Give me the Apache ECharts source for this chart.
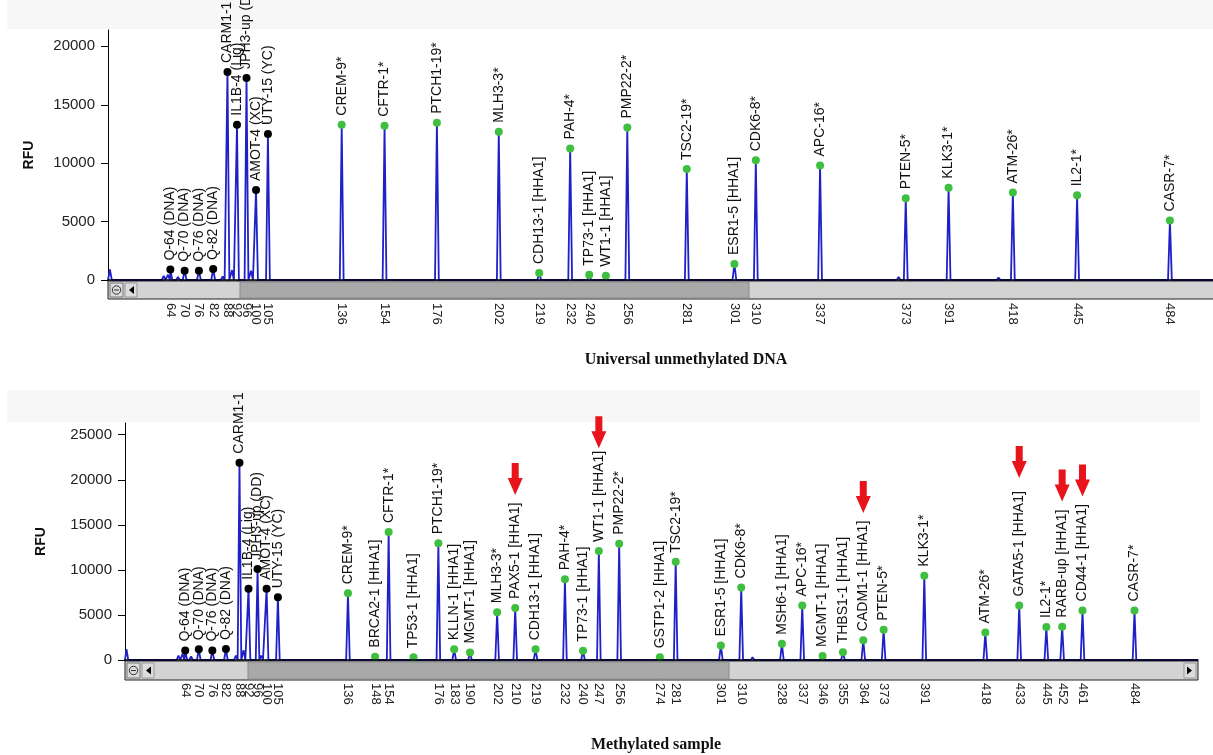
<!DOCTYPE html>
<html><head><meta charset="utf-8">
<script src="https://cdn.jsdelivr.net/npm/echarts@6/dist/echarts.min.js"></script>
<style>html,body{margin:0;padding:0;background:#fff}#c{width:1213px;height:755px}</style>
</head><body><div id="c"></div>
<script>
// ---------- Top panel: Universal unmethylated DNA ----------
const topCtrlNames = ['Q-64 (DNA)','Q-70 (DNA)','Q-76 (DNA)','Q-82 (DNA)','CARM1-1','IL1B-4 (Lig)','JPH3-up (DD)','AMOT-4 (XC)','UTY-15 (YC)'];
const topCtrlSizes = [64,70,76,82,88,92,96,100,105];
const topCtrlRFU   = [900,800,800,950,17800,13300,17300,7700,12500];
const topProbeNames = ['CREM-9*','CFTR-1*','PTCH1-19*','MLH3-3*','CDH13-1 [HHA1]','PAH-4*','TP73-1 [HHA1]','WT1-1 [HHA1]','PMP22-2*','TSC2-19*','ESR1-5 [HHA1]','CDK6-8*','APC-16*','PTEN-5*','KLK3-1*','ATM-26*','IL2-1*','CASR-7*'];
const topProbeSizes = [136,154,176,202,219,232,240,247,256,281,301,310,337,373,391,418,445,484];
const topProbeRFU   = [13300,13200,13450,12700,600,11250,450,370,13050,9500,1370,10250,9800,7000,7900,7500,7250,5100];
const topNoiseSizes = [38.6,61.2,63.0,67.2,86.0,89.9,97.9,120,146,190,226,270,318,362,370,412,450];
const topNoiseRFU   = [900,350,450,250,300,850,800,150,100,80,100,100,120,100,250,200,150];
const topTickLabels = [64,70,76,82,88,92,96,100,105,136,154,176,202,219,232,240,256,281,301,310,337,373,391,418,445,484];
const topTickMarks  = [64,70,76,82,88,92,96,100,105,136,154,176,202,219,232,240,247,256,281,301,310,337,373,391,418,445,484];
const topYTicks = [0,5000,10000,15000,20000];

// ---------- Bottom panel: Methylated sample ----------
const botCtrlNames = topCtrlNames;
const botCtrlSizes = [64,70,76,82,88,92,96,100,105];
const botCtrlRFU   = [1050,1200,1050,1220,21900,7900,10100,7900,6950];
const botProbeNames = ['CREM-9*','BRCA2-1 [HHA1]','CFTR-1*','TP53-1 [HHA1]','PTCH1-19*','KLLN-1 [HHA1]','MGMT-1 [HHA1]','MLH3-3*','PAX5-1 [HHA1]','CDH13-1 [HHA1]','PAH-4*','TP73-1 [HHA1]','WT1-1 [HHA1]','PMP22-2*','GSTP1-2 [HHA1]','TSC2-19*','ESR1-5 [HHA1]','CDK6-8*','MSH6-1 [HHA1]','APC-16*','MGMT-1 [HHA1]','THBS1-1 [HHA1]','CADM1-1 [HHA1]','PTEN-5*','KLK3-1*','ATM-26*','GATA5-1 [HHA1]','IL2-1*','RARB-up [HHA1]','CD44-1 [HHA1]','CASR-7*'];
const botProbeSizes = [136,148,154,165,176,183,190,202,210,219,232,240,247,256,274,281,301,310,328,337,346,355,364,373,391,418,433,445,452,461,484];
const botProbeRFU   = [7400,370,14200,300,12950,1180,820,5300,5780,1180,8950,1040,12100,12900,300,10900,1600,8050,1800,6050,450,850,2200,3350,9350,3050,6050,3650,3700,5500,5500];
const botNoiseSizes = [38.0,52,61.0,62.8,66.6,86.4,89.8,97.6,130,160,196,226,292,315,381,472];
const botNoiseRFU   = [1200,150,500,700,400,500,1100,500,150,100,100,120,100,300,200,150];
const botArrowSizes = [210,247,364,433,452,461];
const botArrowRFU   = [18300,23500,16300,20200,17600,18150];
const botTickLabels = [64,70,76,82,88,92,96,100,105,136,148,154,176,183,190,202,210,219,232,240,247,256,274,281,301,310,328,337,346,355,364,373,391,418,433,445,452,461,484];
const botTickMarks  = [64,70,76,82,88,92,96,100,105,136,148,154,165,176,183,190,202,210,219,232,240,247,256,274,281,301,310,328,337,346,355,364,373,391,418,433,445,452,461,484];
const botYTicks = [0,5000,10000,15000,20000,25000];

// ---------- helpers ----------
const FONT = 'Liberation Sans, Arial, sans-serif';
const W = 0.8; // half width of a peak (style)
function trace(groups, min, max) {
  const pk = [];
  groups.forEach(g => g[0].forEach((s, i) => pk.push([s, g[1][i]])));
  pk.sort((a, b) => a[0] - b[0]);
  const pts = [[min, 0]];
  pk.forEach(([s, h]) => { pts.push([s - W, 0], [s, h], [s + W, 0]); });
  pts.push([max, 0]);
  return pts;
}
function pts(sizes, vals, names) {
  return sizes.map((s, i) => ({ value: [s, vals[i]], name: names ? names[i] : '' }));
}
const peakLabel = {
  show: true, formatter: '{b}', position: 'top', rotate: 90, align: 'left',
  verticalAlign: 'middle', distance: 5, fontSize: 14, color: '#111', fontFamily: FONT
};

const P = [
  { min: 37.8, max: 502.1, ymax: 21400, yt: topYTicks, tl: topTickLabels, tm: topTickMarks, gap: 72 },
  { min: 37.35, max: 512.1, ymax: 26300, yt: botYTicks, tl: botTickLabels, tm: botTickMarks, gap: 77 }
];

const xAxis = [], yAxis = [];
P.forEach((p, g) => {
  xAxis.push({
    type: 'value', gridIndex: g, min: p.min, max: p.max, position: 'bottom', z: 10,
    axisLine: { show: true, onZero: false, lineStyle: { color: '#000', width: 1.5 } },
    axisTick: { show: false }, axisLabel: { show: false }, splitLine: { show: false }
  });
  xAxis.push({
    type: 'value', gridIndex: g, min: p.min, max: p.max, position: 'bottom', offset: 19,
    axisLine: { show: false },
    axisTick: { show: true, customValues: p.tm, length: 7, lineStyle: { color: '#000', width: 1 } },
    axisLabel: { show: true, customValues: p.tl, rotate: -90, fontSize: 13, color: '#222', margin: 4,
      fontFamily: FONT, formatter: v => String(v) },
    splitLine: { show: false }
  });
  yAxis.push({
    type: 'value', gridIndex: g, min: 0, max: p.ymax,
    axisLine: { show: true, lineStyle: { color: '#000', width: 1 } },
    axisTick: { show: true, customValues: p.yt, length: 7, lineStyle: { color: '#000' } },
    axisLabel: { customValues: p.yt, fontSize: 15, color: '#222', margin: 13, fontFamily: FONT, formatter: v => String(v) },
    splitLine: { show: false },
    name: 'RFU', nameLocation: 'middle', nameGap: p.gap,
    nameTextStyle: { fontWeight: 'bold', fontSize: 14, color: '#111', fontFamily: FONT }
  });
});

const blue = '#2020c8', green = '#3fbf3f';
const series = [
  { type: 'line', xAxisIndex: 0, yAxisIndex: 0, symbol: 'none', z: 2,
    data: trace([[topCtrlSizes, topCtrlRFU], [topProbeSizes, topProbeRFU], [topNoiseSizes, topNoiseRFU]], P[0].min, P[0].max),
    lineStyle: { color: blue, width: 1.8 } },
  { type: 'scatter', xAxisIndex: 0, yAxisIndex: 0, symbolSize: 8, z: 4,
    data: pts(topCtrlSizes, topCtrlRFU, topCtrlNames), itemStyle: { color: '#000', opacity: 1 }, label: peakLabel },
  { type: 'scatter', xAxisIndex: 0, yAxisIndex: 0, symbolSize: 8, z: 4,
    data: pts(topProbeSizes, topProbeRFU, topProbeNames), itemStyle: { color: green, opacity: 1 }, label: peakLabel },
  { type: 'line', xAxisIndex: 2, yAxisIndex: 1, symbol: 'none', z: 2,
    data: trace([[botCtrlSizes, botCtrlRFU], [botProbeSizes, botProbeRFU], [botNoiseSizes, botNoiseRFU]], P[1].min, P[1].max),
    lineStyle: { color: blue, width: 1.8 } },
  { type: 'scatter', xAxisIndex: 2, yAxisIndex: 1, symbolSize: 8, z: 4,
    data: pts(botCtrlSizes, botCtrlRFU, botCtrlNames), itemStyle: { color: '#000', opacity: 1 }, label: peakLabel },
  { type: 'scatter', xAxisIndex: 2, yAxisIndex: 1, symbolSize: 8, z: 4,
    data: pts(botProbeSizes, botProbeRFU, botProbeNames), itemStyle: { color: green, opacity: 1 }, label: peakLabel },
  { type: 'scatter', xAxisIndex: 2, yAxisIndex: 1, z: 5,
    data: pts(botArrowSizes, botArrowRFU),
    symbol: 'path://M4,0 L11,0 L11,15 L15,15 L7.5,32 L0,15 L4,15 Z',
    symbolSize: [15, 32], symbolOffset: [0, '-50%'], itemStyle: { color: '#e8141b', opacity: 1 } }
];

function scrollbar(x, y, w, h, thumbX, thumbW, rightBtn) {
  const els = [
    { type: 'rect', shape: { x: x, y: y, width: w, height: h }, style: { fill: '#d3d3d3', stroke: '#222', lineWidth: 1 }, z: 1 },
    { type: 'rect', shape: { x: thumbX, y: y + 1, width: thumbW, height: h - 2 }, style: { fill: '#a9a9a9', stroke: '#8a8a8a', lineWidth: 1 }, z: 2 },
    { type: 'rect', shape: { x: x + 2, y: y + 2, width: 13, height: h - 4 }, style: { fill: '#dcdcdc', stroke: '#777', lineWidth: 1 }, z: 2 },
    { type: 'circle', shape: { cx: x + 8.5, cy: y + h / 2, r: 4.2 }, style: { fill: 'none', stroke: '#333', lineWidth: 1 }, z: 3 },
    { type: 'line', shape: { x1: x + 6, y1: y + h / 2, x2: x + 11, y2: y + h / 2 }, style: { stroke: '#333', lineWidth: 1 }, z: 3 },
    { type: 'rect', shape: { x: x + 17, y: y + 2, width: 12, height: h - 4 }, style: { fill: '#dcdcdc', stroke: '#999', lineWidth: 1 }, z: 2 },
    { type: 'polygon', shape: { points: [[x + 26, y + h / 2 - 4], [x + 26, y + h / 2 + 4], [x + 21, y + h / 2]] }, style: { fill: '#000' }, z: 3 }
  ];
  if (rightBtn) {
    els.push({ type: 'rect', shape: { x: x + w - 14, y: y + 2, width: 12, height: h - 4 }, style: { fill: '#dcdcdc', stroke: '#999', lineWidth: 1 }, z: 2 });
    els.push({ type: 'polygon', shape: { points: [[x + w - 11, y + h / 2 - 4], [x + w - 11, y + h / 2 + 4], [x + w - 6, y + h / 2]] }, style: { fill: '#000' }, z: 3 });
  }
  return els;
}

const graphic = [
  { type: 'rect', shape: { x: 7, y: 0, width: 1206, height: 29 }, style: { fill: '#f7f7f7' }, z: -10, silent: true },
  { type: 'rect', shape: { x: 7, y: 390, width: 1193, height: 32 }, style: { fill: '#f7f7f7' }, z: -10, silent: true },
  ...scrollbar(108, 281, 1110, 18, 240, 509, false),
  ...scrollbar(125, 661, 1073, 19, 248, 481, true),
  { type: 'text', x: 686, y: 360, style: { text: 'Universal unmethylated DNA', fill: '#111', font: 'bold 16px "Liberation Serif", "Times New Roman", serif', textAlign: 'center', textVerticalAlign: 'middle' }, z: 5 },
  { type: 'text', x: 656, y: 745, style: { text: 'Methylated sample', fill: '#111', font: 'bold 16px "Liberation Serif", "Times New Roman", serif', textAlign: 'center', textVerticalAlign: 'middle' }, z: 5 }
];

const chart = echarts.init(document.getElementById('c'), null, { renderer: 'canvas' });
chart.setOption({
  animation: false,
  backgroundColor: '#fff',
  grid: [
    { left: 108, top: 30, width: 1105, height: 250 },
    { left: 125, top: 423, width: 1073, height: 237 }
  ],
  xAxis: xAxis,
  yAxis: yAxis,
  series: series,
  graphic: graphic
});
</script>
</body></html>
